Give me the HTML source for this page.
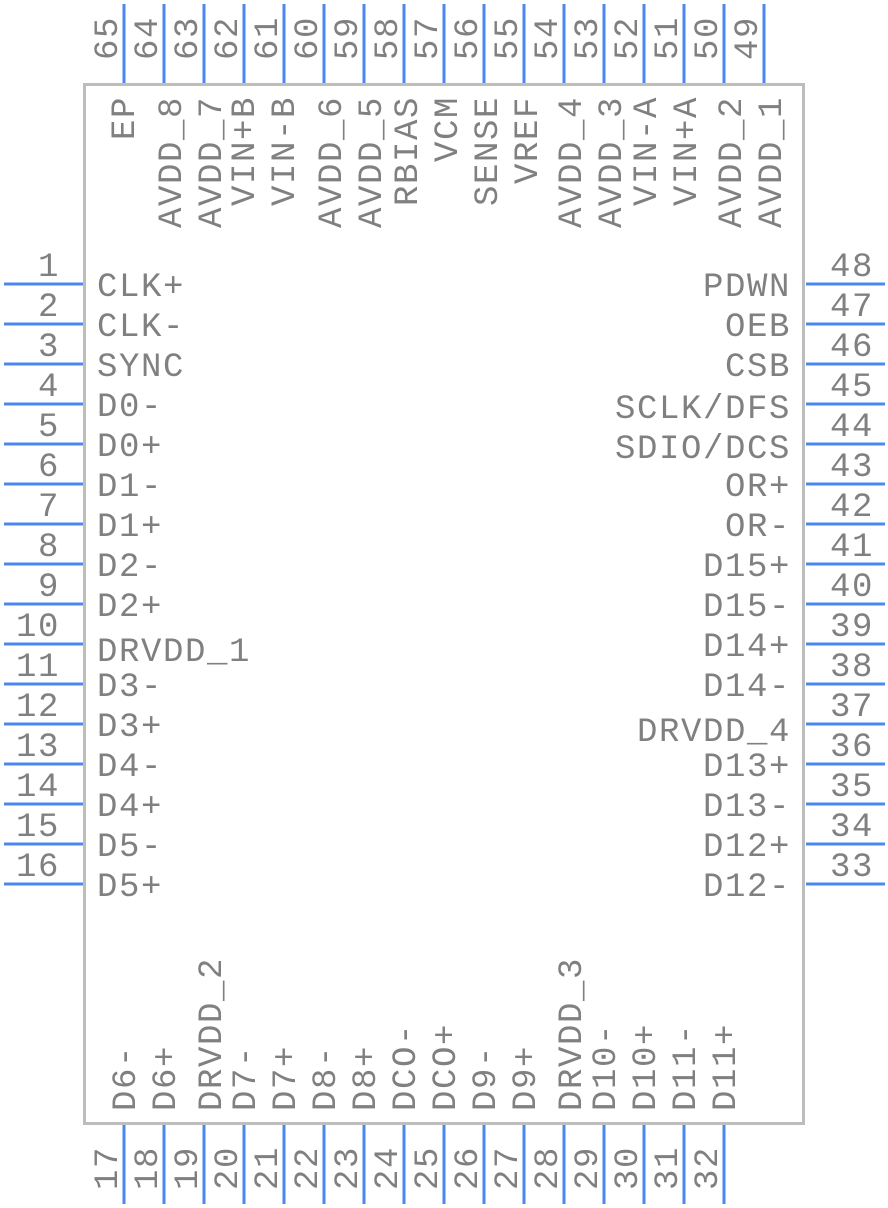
<!DOCTYPE html>
<html><head><meta charset="utf-8"><style>
html,body{margin:0;padding:0;background:#fff;}
svg{display:block;}
text{font-family:"Liberation Mono","DejaVu Sans Mono",monospace;font-size:34px;letter-spacing:1.6px;fill:#808080;}
</style></head><body>
<svg width="888" height="1208" viewBox="0 0 888 1208" xmlns="http://www.w3.org/2000/svg">
<rect x="84.5" y="84.5" width="719" height="1039" fill="#fff" stroke="#bdbdbd" stroke-width="3"/>
<g stroke="#4a8af0" stroke-width="3">
<!-- left -->
<line x1="4" y1="284" x2="83" y2="284"/><line x1="4" y1="324" x2="83" y2="324"/><line x1="4" y1="364" x2="83" y2="364"/><line x1="4" y1="404" x2="83" y2="404"/>
<line x1="4" y1="444" x2="83" y2="444"/><line x1="4" y1="484" x2="83" y2="484"/><line x1="4" y1="524" x2="83" y2="524"/><line x1="4" y1="564" x2="83" y2="564"/>
<line x1="4" y1="604" x2="83" y2="604"/><line x1="4" y1="644" x2="83" y2="644"/><line x1="4" y1="684" x2="83" y2="684"/><line x1="4" y1="724" x2="83" y2="724"/>
<line x1="4" y1="764" x2="83" y2="764"/><line x1="4" y1="804" x2="83" y2="804"/><line x1="4" y1="844" x2="83" y2="844"/><line x1="4" y1="884" x2="83" y2="884"/>
<!-- right -->
<line x1="806" y1="284" x2="885" y2="284"/><line x1="806" y1="324" x2="885" y2="324"/><line x1="806" y1="364" x2="885" y2="364"/><line x1="806" y1="404" x2="885" y2="404"/>
<line x1="806" y1="444" x2="885" y2="444"/><line x1="806" y1="484" x2="885" y2="484"/><line x1="806" y1="524" x2="885" y2="524"/><line x1="806" y1="564" x2="885" y2="564"/>
<line x1="806" y1="604" x2="885" y2="604"/><line x1="806" y1="644" x2="885" y2="644"/><line x1="806" y1="684" x2="885" y2="684"/><line x1="806" y1="724" x2="885" y2="724"/>
<line x1="806" y1="764" x2="885" y2="764"/><line x1="806" y1="804" x2="885" y2="804"/><line x1="806" y1="844" x2="885" y2="844"/><line x1="806" y1="884" x2="885" y2="884"/>
<!-- top -->
<line x1="124" y1="4" x2="124" y2="83"/><line x1="164" y1="4" x2="164" y2="83"/><line x1="204" y1="4" x2="204" y2="83"/><line x1="244" y1="4" x2="244" y2="83"/>
<line x1="284" y1="4" x2="284" y2="83"/><line x1="324" y1="4" x2="324" y2="83"/><line x1="364" y1="4" x2="364" y2="83"/><line x1="404" y1="4" x2="404" y2="83"/>
<line x1="444" y1="4" x2="444" y2="83"/><line x1="484" y1="4" x2="484" y2="83"/><line x1="524" y1="4" x2="524" y2="83"/><line x1="564" y1="4" x2="564" y2="83"/>
<line x1="604" y1="4" x2="604" y2="83"/><line x1="644" y1="4" x2="644" y2="83"/><line x1="684" y1="4" x2="684" y2="83"/><line x1="724" y1="4" x2="724" y2="83"/>
<line x1="764" y1="4" x2="764" y2="83"/>
<!-- bottom -->
<line x1="124" y1="1125" x2="124" y2="1204"/><line x1="164" y1="1125" x2="164" y2="1204"/><line x1="204" y1="1125" x2="204" y2="1204"/><line x1="244" y1="1125" x2="244" y2="1204"/>
<line x1="284" y1="1125" x2="284" y2="1204"/><line x1="324" y1="1125" x2="324" y2="1204"/><line x1="364" y1="1125" x2="364" y2="1204"/><line x1="404" y1="1125" x2="404" y2="1204"/>
<line x1="444" y1="1125" x2="444" y2="1204"/><line x1="484" y1="1125" x2="484" y2="1204"/><line x1="524" y1="1125" x2="524" y2="1204"/><line x1="564" y1="1125" x2="564" y2="1204"/>
<line x1="604" y1="1125" x2="604" y2="1204"/><line x1="644" y1="1125" x2="644" y2="1204"/><line x1="684" y1="1125" x2="684" y2="1204"/><line x1="724" y1="1125" x2="724" y2="1204"/>
</g>
<!-- left numbers -->
<g text-anchor="end">
<text x="60" y="276">1</text><text x="60" y="316">2</text><text x="60" y="356">3</text><text x="60" y="396">4</text>
<text x="60" y="436">5</text><text x="60" y="476">6</text><text x="60" y="516">7</text><text x="60" y="556">8</text>
<text x="60" y="596">9</text><text x="60" y="636">10</text><text x="60" y="676">11</text><text x="60" y="716">12</text>
<text x="60" y="756">13</text><text x="60" y="796">14</text><text x="60" y="836">15</text><text x="60" y="876">16</text>
</g>
<!-- left labels -->
<g>
<text x="97" y="296">CLK+</text><text x="97" y="336">CLK-</text><text x="97" y="376">SYNC</text><text x="97" y="416">D0-</text>
<text x="97" y="456">D0+</text><text x="97" y="496">D1-</text><text x="97" y="536">D1+</text><text x="97" y="576">D2-</text>
<text x="97" y="616">D2+</text><text x="97" y="661">DRVDD_1</text><text x="97" y="696">D3-</text><text x="97" y="736">D3+</text>
<text x="97" y="776">D4-</text><text x="97" y="816">D4+</text><text x="97" y="856">D5-</text><text x="97" y="896">D5+</text>
</g>
<!-- right numbers -->
<g>
<text x="830" y="276">48</text><text x="830" y="316">47</text><text x="830" y="356">46</text><text x="830" y="396">45</text>
<text x="830" y="436">44</text><text x="830" y="476">43</text><text x="830" y="516">42</text><text x="830" y="556">41</text>
<text x="830" y="596">40</text><text x="830" y="636">39</text><text x="830" y="676">38</text><text x="830" y="716">37</text>
<text x="830" y="756">36</text><text x="830" y="796">35</text><text x="830" y="836">34</text><text x="830" y="876">33</text>
</g>
<!-- right labels -->
<g text-anchor="end">
<text x="791" y="296">PDWN</text><text x="791" y="336">OEB</text><text x="791" y="376">CSB</text><text x="791" y="418">SCLK/DFS</text>
<text x="791" y="458">SDIO/DCS</text><text x="791" y="496">OR+</text><text x="791" y="536">OR-</text><text x="791" y="576">D15+</text>
<text x="791" y="616">D15-</text><text x="791" y="656">D14+</text><text x="791" y="696">D14-</text><text x="791" y="741">DRVDD_4</text>
<text x="791" y="776">D13+</text><text x="791" y="816">D13-</text><text x="791" y="856">D12+</text><text x="791" y="896">D12-</text>
</g>
<!-- top numbers -->
<g text-anchor="end">
<text transform="translate(117,16) rotate(-90)">65</text><text transform="translate(157,16) rotate(-90)">64</text>
<text transform="translate(197,16) rotate(-90)">63</text><text transform="translate(237,16) rotate(-90)">62</text>
<text transform="translate(277,16) rotate(-90)">61</text><text transform="translate(317,16) rotate(-90)">60</text>
<text transform="translate(357,16) rotate(-90)">59</text><text transform="translate(397,16) rotate(-90)">58</text>
<text transform="translate(437,16) rotate(-90)">57</text><text transform="translate(477,16) rotate(-90)">56</text>
<text transform="translate(517,16) rotate(-90)">55</text><text transform="translate(557,16) rotate(-90)">54</text>
<text transform="translate(597,16) rotate(-90)">53</text><text transform="translate(637,16) rotate(-90)">52</text>
<text transform="translate(677,16) rotate(-90)">51</text><text transform="translate(717,16) rotate(-90)">50</text>
<text transform="translate(757,16) rotate(-90)">49</text>
</g>
<!-- top labels -->
<g text-anchor="end">
<text transform="translate(134,96) rotate(-90)">EP</text>
<text transform="translate(181,96) rotate(-90)">AVDD_8</text>
<text transform="translate(221,96) rotate(-90)">AVDD_7</text>
<text transform="translate(254,96) rotate(-90)">VIN+B</text>
<text transform="translate(294,96) rotate(-90)">VIN-B</text>
<text transform="translate(341,96) rotate(-90)">AVDD_6</text>
<text transform="translate(381,96) rotate(-90)">AVDD_5</text>
<text transform="translate(417,96) rotate(-90)">RBIAS</text>
<text transform="translate(457,96) rotate(-90)">VCM</text>
<text transform="translate(497,96) rotate(-90)">SENSE</text>
<text transform="translate(537,96) rotate(-90)">VREF</text>
<text transform="translate(581,96) rotate(-90)">AVDD_4</text>
<text transform="translate(621,96) rotate(-90)">AVDD_3</text>
<text transform="translate(656,96) rotate(-90)">VIN-A</text>
<text transform="translate(696,96) rotate(-90)">VIN+A</text>
<text transform="translate(741,96) rotate(-90)">AVDD_2</text>
<text transform="translate(781,96) rotate(-90)">AVDD_1</text>
</g>
<!-- bottom numbers -->
<g>
<text transform="translate(117,1190) rotate(-90)">17</text><text transform="translate(157,1190) rotate(-90)">18</text>
<text transform="translate(197,1190) rotate(-90)">19</text><text transform="translate(237,1190) rotate(-90)">20</text>
<text transform="translate(277,1190) rotate(-90)">21</text><text transform="translate(317,1190) rotate(-90)">22</text>
<text transform="translate(357,1190) rotate(-90)">23</text><text transform="translate(397,1190) rotate(-90)">24</text>
<text transform="translate(437,1190) rotate(-90)">25</text><text transform="translate(477,1190) rotate(-90)">26</text>
<text transform="translate(517,1190) rotate(-90)">27</text><text transform="translate(557,1190) rotate(-90)">28</text>
<text transform="translate(597,1190) rotate(-90)">29</text><text transform="translate(637,1190) rotate(-90)">30</text>
<text transform="translate(677,1190) rotate(-90)">31</text><text transform="translate(717,1190) rotate(-90)">32</text>
</g>
<!-- bottom labels -->
<g>
<text transform="translate(135,1111) rotate(-90)">D6-</text>
<text transform="translate(175,1111) rotate(-90)">D6+</text>
<text transform="translate(221,1111) rotate(-90)">DRVDD_2</text>
<text transform="translate(255,1111) rotate(-90)">D7-</text>
<text transform="translate(295,1111) rotate(-90)">D7+</text>
<text transform="translate(335,1111) rotate(-90)">D8-</text>
<text transform="translate(375,1111) rotate(-90)">D8+</text>
<text transform="translate(415,1111) rotate(-90)">DCO-</text>
<text transform="translate(455,1111) rotate(-90)">DCO+</text>
<text transform="translate(495,1111) rotate(-90)">D9-</text>
<text transform="translate(535,1111) rotate(-90)">D9+</text>
<text transform="translate(581,1111) rotate(-90)">DRVDD_3</text>
<text transform="translate(615,1111) rotate(-90)">D10-</text>
<text transform="translate(655,1111) rotate(-90)">D10+</text>
<text transform="translate(695,1111) rotate(-90)">D11-</text>
<text transform="translate(735,1111) rotate(-90)">D11+</text>
</g>
</svg>
</body></html>
